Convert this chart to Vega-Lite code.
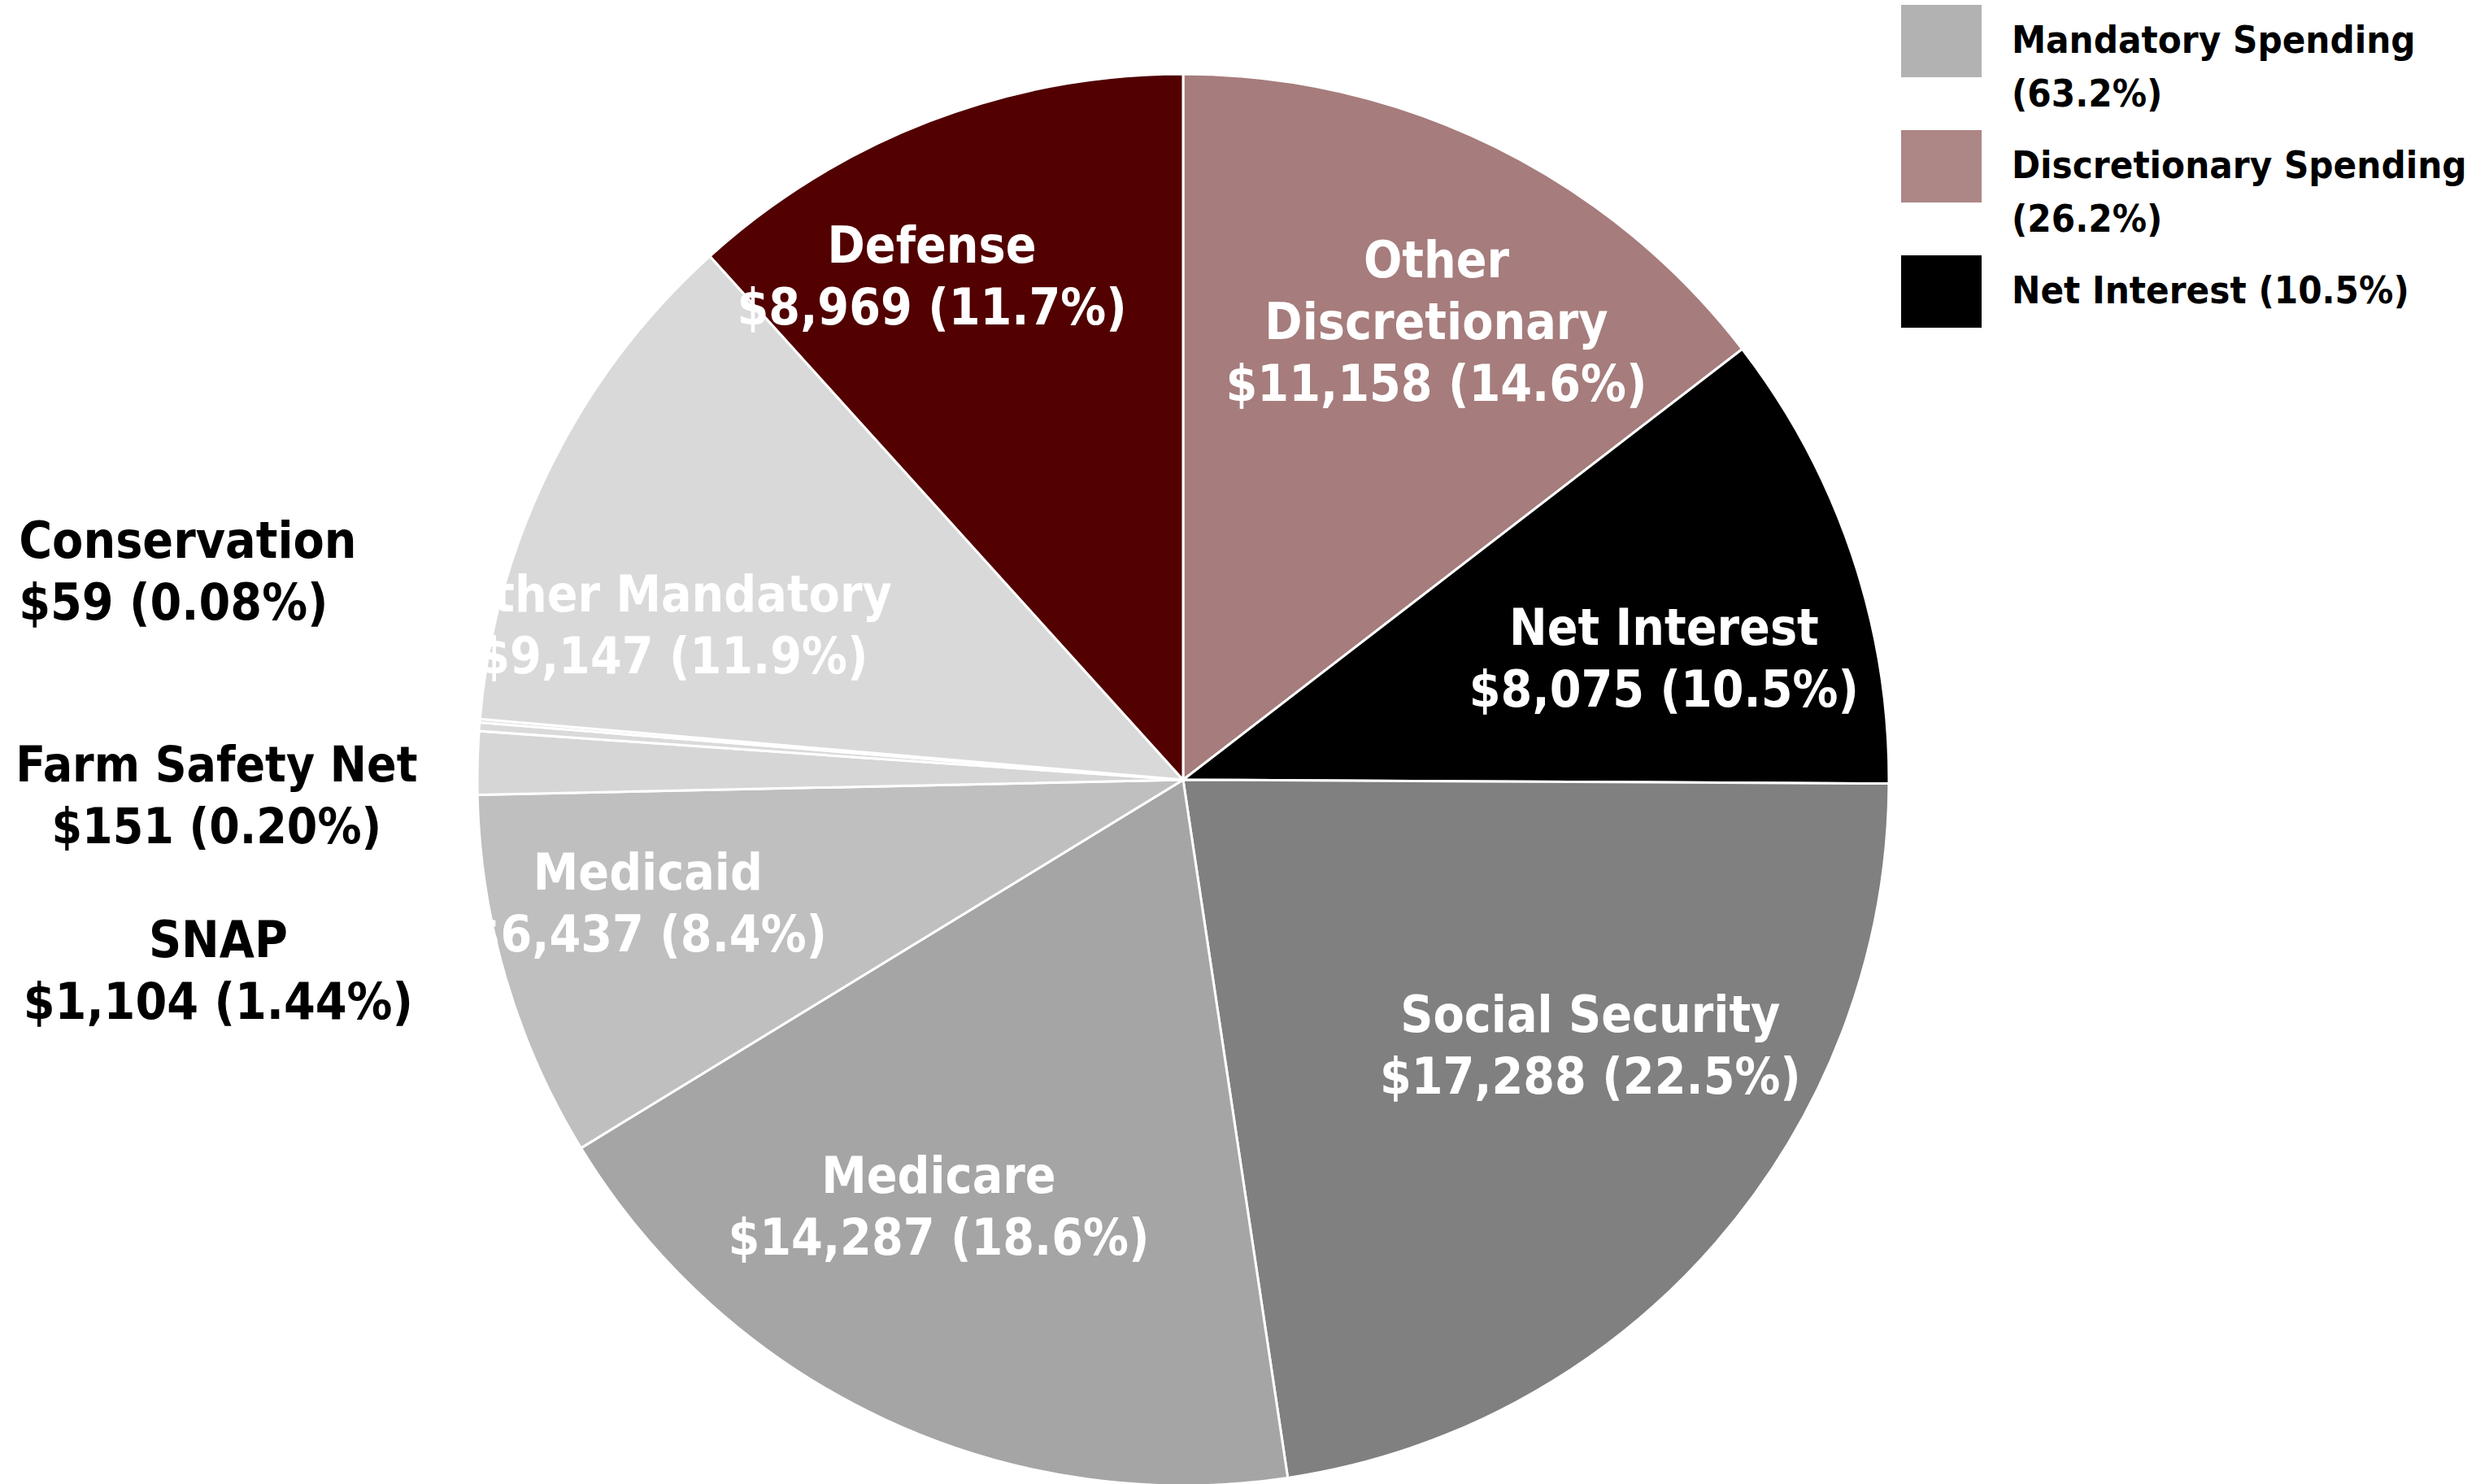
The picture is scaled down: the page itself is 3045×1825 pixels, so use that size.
{
  "$schema": "https://vega.github.io/schema/vega-lite/v6.json",
  "width": 2910,
  "height": 1732,
  "autosize": {"type": "none"},
  "padding": {"left": 0, "top": 93, "right": 135, "bottom": 0},
  "background": "white",
  "config": {
    "view": {"stroke": null},
    "text": {"font": "DejaVu Sans Condensed, DejaVu Sans", "fontSize": 62, "fontWeight": "bold", "lineBreak": "\n", "lineHeight": 76, "align": "center", "baseline": "middle"}
  },
  "data": {
    "values": [
      {"name": "Other Discretionary", "value": 11158, "rank": 1, "group": "Discretionary Spending|(26.2%)", "label": "Other\nDiscretionary\n$11,158 (14.6%)"},
      {"name": "Net Interest", "value": 8075, "rank": 2, "group": "Net Interest (10.5%)", "label": "Net Interest\n$8,075 (10.5%)"},
      {"name": "Social Security", "value": 17288, "rank": 3, "group": "Mandatory Spending|(63.2%)", "label": "Social Security\n$17,288 (22.5%)"},
      {"name": "Medicare", "value": 14287, "rank": 4, "group": "Mandatory Spending|(63.2%)", "label": "Medicare\n$14,287 (18.6%)"},
      {"name": "Medicaid", "value": 6437, "rank": 5, "group": "Mandatory Spending|(63.2%)", "label": "Medicaid\n$6,437 (8.4%)"},
      {"name": "SNAP", "value": 1104, "rank": 6, "group": "Mandatory Spending|(63.2%)", "label": "SNAP\n$1,104 (1.44%)"},
      {"name": "Farm Safety Net", "value": 151, "rank": 7, "group": "Mandatory Spending|(63.2%)", "label": "Farm Safety Net\n$151 (0.20%)"},
      {"name": "Conservation", "value": 59, "rank": 8, "group": "Mandatory Spending|(63.2%)", "label": "Conservation\n$59 (0.08%)"},
      {"name": "Other Mandatory", "value": 9147, "rank": 9, "group": "Mandatory Spending|(63.2%)", "label": "Other Mandatory\n$9,147 (11.9%)"},
      {"name": "Defense", "value": 8969, "rank": 10, "group": "Discretionary Spending|(26.2%)", "label": "Defense\n$8,969 (11.7%)"}
    ]
  },
  "layer": [
    {
      "mark": {"type": "arc", "outerRadius": 868, "stroke": "white", "strokeWidth": 3},
      "encoding": {
        "theta": {"field": "value", "type": "quantitative", "stack": true},
        "order": {"field": "rank", "type": "quantitative"},
        "color": {"field": "name", "type": "nominal",
          "scale": {"domain": ["Other Discretionary","Net Interest","Social Security","Medicare","Medicaid","SNAP","Farm Safety Net","Conservation","Other Mandatory","Defense"],
                    "range": ["#a67c7c","#000000","#808080","#a5a5a5","#bfbfbf","#d6d6d6","#dadada","#dcdcdc","#d9d9d9","#520000"]},
          "legend": null}
      }
    },
    {
      "mark": {"type": "square", "opacity": 0},
      "encoding": {
        "fill": {"field": "group", "type": "nominal",
          "scale": {"domain": ["Mandatory Spending|(63.2%)", "Discretionary Spending|(26.2%)", "Net Interest (10.5%)"],
                    "range": ["#b2b2b2", "#ad8686", "#000000"]},
          "legend": {
            "orient": "none", "legendX": 2338, "legendY": -92, "title": null,
            "symbolType": "M-1,-0.9H1V0.9H-1Z", "symbolSize": 9801, "symbolStrokeWidth": 0, "symbolOpacity": 1,
            "labelFont": "DejaVu Sans Condensed, DejaVu Sans", "labelFontSize": 47, "labelFontWeight": "bold", "labelColor": "#000000",
            "labelLimit": 1000, "labelOffset": 37, "labelExpr": "split(datum.label, '|')", "rowPadding": 15, "padding": 0,
            "encode": {
              "labels": {"update": {"lineHeight": {"value": 66}}},
              "symbols": {
                "enter": {"fill": {"signal": "datum.value === 'Net Interest (10.5%)' ? '#000000' : (datum.value === 'Mandatory Spending|(63.2%)' ? {gradient: 'linear', x1: 0, y1: 0, x2: 0, y2: 1, stops: [{offset: 0, color: '#8a8a8a'}, {offset: 1, color: '#d8d8d8'}]} : {gradient: 'linear', x1: 0, y1: 0, x2: 0, y2: 1, stops: [{offset: 0, color: '#5a0606'}, {offset: 0.12, color: '#7a2e2e'}, {offset: 0.5, color: '#bda2a2'}, {offset: 1, color: '#f7f3f3'}]})"}},
                "update": {"fill": {"signal": "datum.value === 'Net Interest (10.5%)' ? '#000000' : (datum.value === 'Mandatory Spending|(63.2%)' ? {gradient: 'linear', x1: 0, y1: 0, x2: 0, y2: 1, stops: [{offset: 0, color: '#8a8a8a'}, {offset: 1, color: '#d8d8d8'}]} : {gradient: 'linear', x1: 0, y1: 0, x2: 0, y2: 1, stops: [{offset: 0, color: '#5a0606'}, {offset: 0.12, color: '#7a2e2e'}, {offset: 0.5, color: '#bda2a2'}, {offset: 1, color: '#f7f3f3'}]})"}}
              }
            }
          }
        }
      }
    },
    {"mark": {"type": "text", "radius": 640, "dx": -79, "dy": -58, "color": "white"},
     "encoding": {"theta": {"field": "value", "type": "quantitative", "stack": true}, "order": {"field": "rank", "type": "quantitative"}, "detail": {"field": "name"}, "text": {"condition": {"test": "datum.name === 'Defense'", "field": "label", "type": "nominal"}, "value": ""}}},
    {"mark": {"type": "text", "radius": 640, "dx": 29, "dy": -63, "color": "white"},
     "encoding": {"theta": {"field": "value", "type": "quantitative", "stack": true}, "order": {"field": "rank", "type": "quantitative"}, "detail": {"field": "name"}, "text": {"condition": {"test": "datum.name === 'Other Discretionary'", "field": "label", "type": "nominal"}, "value": ""}}},
    {"mark": {"type": "text", "radius": 640, "dx": -15, "dy": 20, "color": "white"},
     "encoding": {"theta": {"field": "value", "type": "quantitative", "stack": true}, "order": {"field": "rank", "type": "quantitative"}, "detail": {"field": "name"}, "text": {"condition": {"test": "datum.name === 'Net Interest'", "field": "label", "type": "nominal"}, "value": ""}}},
    {"mark": {"type": "text", "radius": 640, "dx": 17, "dy": -128, "color": "white"},
     "encoding": {"theta": {"field": "value", "type": "quantitative", "stack": true}, "order": {"field": "rank", "type": "quantitative"}, "detail": {"field": "name"}, "text": {"condition": {"test": "datum.name === 'Social Security'", "field": "label", "type": "nominal"}, "value": ""}}},
    {"mark": {"type": "text", "radius": 640, "dx": -30, "dy": -91, "color": "white"},
     "encoding": {"theta": {"field": "value", "type": "quantitative", "stack": true}, "order": {"field": "rank", "type": "quantitative"}, "detail": {"field": "name"}, "text": {"condition": {"test": "datum.name === 'Medicare'", "field": "label", "type": "nominal"}, "value": ""}}},
    {"mark": {"type": "text", "radius": 640, "dx": -44, "dy": -64, "color": "white"},
     "encoding": {"theta": {"field": "value", "type": "quantitative", "stack": true}, "order": {"field": "rank", "type": "quantitative"}, "detail": {"field": "name"}, "text": {"condition": {"test": "datum.name === 'Medicaid'", "field": "label", "type": "nominal"}, "value": ""}}},
    {"mark": {"type": "text", "radius": 640, "dx": -54, "dy": 59, "color": "white"},
     "encoding": {"theta": {"field": "value", "type": "quantitative", "stack": true}, "order": {"field": "rank", "type": "quantitative"}, "detail": {"field": "name"}, "text": {"condition": {"test": "datum.name === 'Other Mandatory'", "field": "label", "type": "nominal"}, "value": ""}}},
    {"mark": {"type": "text", "radius": 1190, "dx": 3, "dy": 227, "color": "black"},
     "encoding": {"theta": {"field": "value", "type": "quantitative", "stack": true}, "order": {"field": "rank", "type": "quantitative"}, "detail": {"field": "name"}, "text": {"condition": {"test": "datum.name === 'SNAP'", "field": "label", "type": "nominal"}, "value": ""}}},
    {"mark": {"type": "text", "radius": 1190, "dx": -2, "dy": 73, "color": "black", "fontSize": 60},
     "encoding": {"theta": {"field": "value", "type": "quantitative", "stack": true}, "order": {"field": "rank", "type": "quantitative"}, "detail": {"field": "name"}, "text": {"condition": {"test": "datum.name === 'Farm Safety Net'", "field": "label", "type": "nominal"}, "value": ""}}},
    {"mark": {"type": "text", "radius": 1190, "dx": -246, "dy": -192, "color": "black", "align": "left"},
     "encoding": {"theta": {"field": "value", "type": "quantitative", "stack": true}, "order": {"field": "rank", "type": "quantitative"}, "detail": {"field": "name"}, "text": {"condition": {"test": "datum.name === 'Conservation'", "field": "label", "type": "nominal"}, "value": ""}}}
  ]
}
